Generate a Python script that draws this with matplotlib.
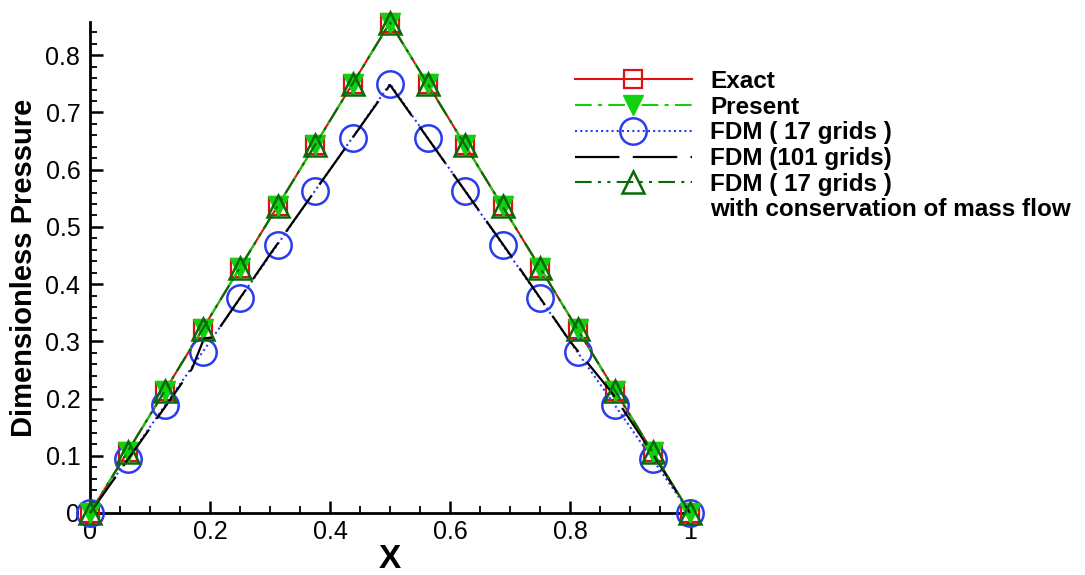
import matplotlib
matplotlib.use("Agg")
import matplotlib.pyplot as plt
from matplotlib.ticker import MultipleLocator, FuncFormatter

plt.rcParams['font.family'] = ['Liberation Sans', 'DejaVu Sans']

# grid points (17 grids)
x17 = [0.0, 0.0625, 0.125, 0.1875, 0.25, 0.3125, 0.375, 0.4375, 0.5,
       0.5625, 0.625, 0.6875, 0.75, 0.8125, 0.875, 0.9375, 1.0]
exact = [0.0, 0.107, 0.214, 0.321, 0.429, 0.536, 0.643, 0.750, 0.857,
         0.750, 0.643, 0.536, 0.429, 0.321, 0.214, 0.107, 0.0]
present = [0.0, 0.107, 0.214, 0.321, 0.429, 0.536, 0.643, 0.750, 0.857,
           0.750, 0.643, 0.536, 0.429, 0.321, 0.214, 0.107, 0.0]
fdm17 = [0.0, 0.094, 0.188, 0.281, 0.375, 0.469, 0.563, 0.656, 0.750,
         0.656, 0.563, 0.469, 0.375, 0.281, 0.188, 0.094, 0.0]
fdm17_cons = [0.0, 0.107, 0.214, 0.321, 0.429, 0.536, 0.643, 0.750, 0.857,
              0.750, 0.643, 0.536, 0.429, 0.321, 0.214, 0.107, 0.0]
# FDM 101 grids (read at selected points along the curve)
x101 = [0.0, 0.10, 0.17, 0.19, 0.205, 0.30, 0.40, 0.50, 0.60, 0.70, 0.80, 0.87, 0.94, 1.0]
fdm101 = [0.0, 0.148, 0.252, 0.305, 0.307, 0.452, 0.600, 0.748, 0.600, 0.452, 0.300, 0.210, 0.100, 0.0]

labels = ["Exact", "Present", "FDM ( 17 grids )", "FDM (101 grids)",
          "FDM ( 17 grids )", "with conservation of mass flow"]

RED = "#e01010"
GREEN = "#10d010"
BLUE = "#2a3cf0"
DKGREEN = "#0a6a0a"

fig = plt.figure(figsize=(10.85, 5.75), dpi=100)
ax = fig.add_axes([90/1085, 1-513/575, 600/1085, (513-22)/575])

ax.plot(x17, exact, color=RED, lw=1.5, ls='-', marker='s', ms=13, mfc='none',
        mec=RED, mew=1.6, clip_on=False, label=labels[0], zorder=3)
ax.plot(x17, present, color=GREEN, lw=1.5, ls=(0, (8, 3, 2, 3)), marker='v', ms=15,
        mfc=GREEN, mec=GREEN, mew=1.0, clip_on=False, label=labels[1], zorder=4)
ax.plot(x17, fdm17, color=BLUE, lw=1.5, ls=(0, (1, 1.5)), marker='o', ms=19, mfc='none',
        mec=BLUE, mew=1.8, clip_on=False, label=labels[2], zorder=3)
ax.plot(x101, fdm101, color='black', lw=1.6, ls=(0, (20, 6)), clip_on=False,
        label=labels[3], zorder=4)
ax.plot(x17, fdm17_cons, color=DKGREEN, lw=1.5, ls=(0, (8, 3, 1.5, 3, 1.5, 3)), marker='^',
        ms=16, mfc='none', mec=DKGREEN, mew=1.8, clip_on=False, label=labels[4], zorder=5)
ax.plot([], [], color='none', label=labels[5])

ax.set_xlim(0, 1)
ax.set_ylim(0, 0.858)
for s in ['top', 'right']:
    ax.spines[s].set_visible(False)
for s in ['left', 'bottom']:
    ax.spines[s].set_linewidth(2)

ax.xaxis.set_major_locator(MultipleLocator(0.2))
ax.xaxis.set_minor_locator(MultipleLocator(0.05))
ax.yaxis.set_major_locator(MultipleLocator(0.1))
ax.yaxis.set_minor_locator(MultipleLocator(0.02))
fmt = FuncFormatter(lambda v, p: ('%g' % round(v, 3)))
ax.xaxis.set_major_formatter(fmt)
ax.yaxis.set_major_formatter(fmt)
ax.tick_params(which='major', direction='in', length=9, width=1.8, labelsize=18, pad=5)
ax.tick_params(which='minor', direction='in', length=5, width=1.3)
ax.tick_params(axis='y', pad=7)

ax.set_xlabel('X', fontsize=24, fontweight='bold', labelpad=0)
ax.set_ylabel('Dimensionless Pressure', fontsize=21, fontweight='bold', labelpad=5)

leg = fig.legend(loc='upper left', bbox_to_anchor=(575/1085, 1-70/575), frameon=False,
                 prop={'weight': 'bold', 'size': 17.5}, handlelength=4.8,
                 handletextpad=0.75, labelspacing=0.11, borderpad=0, borderaxespad=0,
                 numpoints=1)

fig.savefig('out.png', dpi=100)
